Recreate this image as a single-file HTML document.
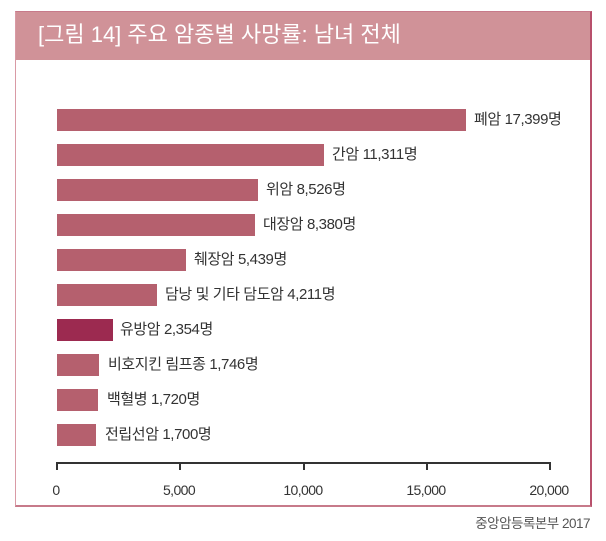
<!DOCTYPE html>
<html><head><meta charset="utf-8"><style>
body{margin:0;width:606px;height:541px;background:#fff;position:relative;overflow:hidden;font-family:"Liberation Sans","Noto Sans CJK KR",sans-serif;}
.frame{position:absolute;left:15px;top:11px;width:574px;height:493px;border-left:1.5px solid #d99aa5;border-top:1px solid #c77a8a;border-right:2px solid #b8506c;border-bottom:2px solid #c77a8a;}
.hd{position:absolute;left:0;top:0;right:0;height:48px;background:#d09298;color:#fff;font-size:22px;line-height:46px;padding-left:22px;box-sizing:border-box;}
.bar{position:absolute;left:57px;height:22px;background:#b5606e;}
.lb{position:absolute;font-size:15px;color:#333;line-height:22px;letter-spacing:-0.4px;white-space:nowrap;}
.tk{position:absolute;top:462px;width:1.5px;height:8px;background:#333;}
.tl{position:absolute;top:482px;font-size:14px;color:#333;width:60px;text-align:center;letter-spacing:-0.6px;}
</style></head><body>
<div class="frame"><div class="hd">[그림 14] 주요 암종별 사망률: 남녀 전체</div></div>
<div class="bar" style="top:109px;width:409px"></div><div class="lb" style="top:109px;left:474px">폐암 17,399명</div>
<div class="bar" style="top:144px;width:267px"></div><div class="lb" style="top:144px;left:332px">간암 11,311명</div>
<div class="bar" style="top:179px;width:201px"></div><div class="lb" style="top:179px;left:266px">위암 8,526명</div>
<div class="bar" style="top:214px;width:198px"></div><div class="lb" style="top:214px;left:263px">대장암 8,380명</div>
<div class="bar" style="top:249px;width:129px"></div><div class="lb" style="top:249px;left:194px">췌장암 5,439명</div>
<div class="bar" style="top:284px;width:100px"></div><div class="lb" style="top:284px;left:165px">담낭 및 기타 담도암 4,211명</div>
<div class="bar" style="top:319px;width:56px;background:#9c2a50"></div><div class="lb" style="top:319px;left:120px">유방암 2,354명</div>
<div class="bar" style="top:354px;width:42px"></div><div class="lb" style="top:354px;left:108px">비호지킨 림프종 1,746명</div>
<div class="bar" style="top:389px;width:41px"></div><div class="lb" style="top:389px;left:107px">백혈병 1,720명</div>
<div class="bar" style="top:424px;width:39px"></div><div class="lb" style="top:424px;left:105px">전립선암 1,700명</div>
<div style="position:absolute;left:56px;top:462px;width:494px;height:1.5px;background:#333"></div>
<div class="tk" style="left:56px"></div><div class="tk" style="left:179px"></div><div class="tk" style="left:303px"></div><div class="tk" style="left:426px"></div><div class="tk" style="left:549px"></div>
<div class="tl" style="left:26px">0</div><div class="tl" style="left:149px">5,000</div><div class="tl" style="left:273px">10,000</div><div class="tl" style="left:396px">15,000</div><div class="tl" style="left:519px">20,000</div>
<div style="position:absolute;right:16px;top:512px;font-size:13.5px;color:#555;letter-spacing:-0.5px">중앙암등록본부 2017</div>
</body></html>
